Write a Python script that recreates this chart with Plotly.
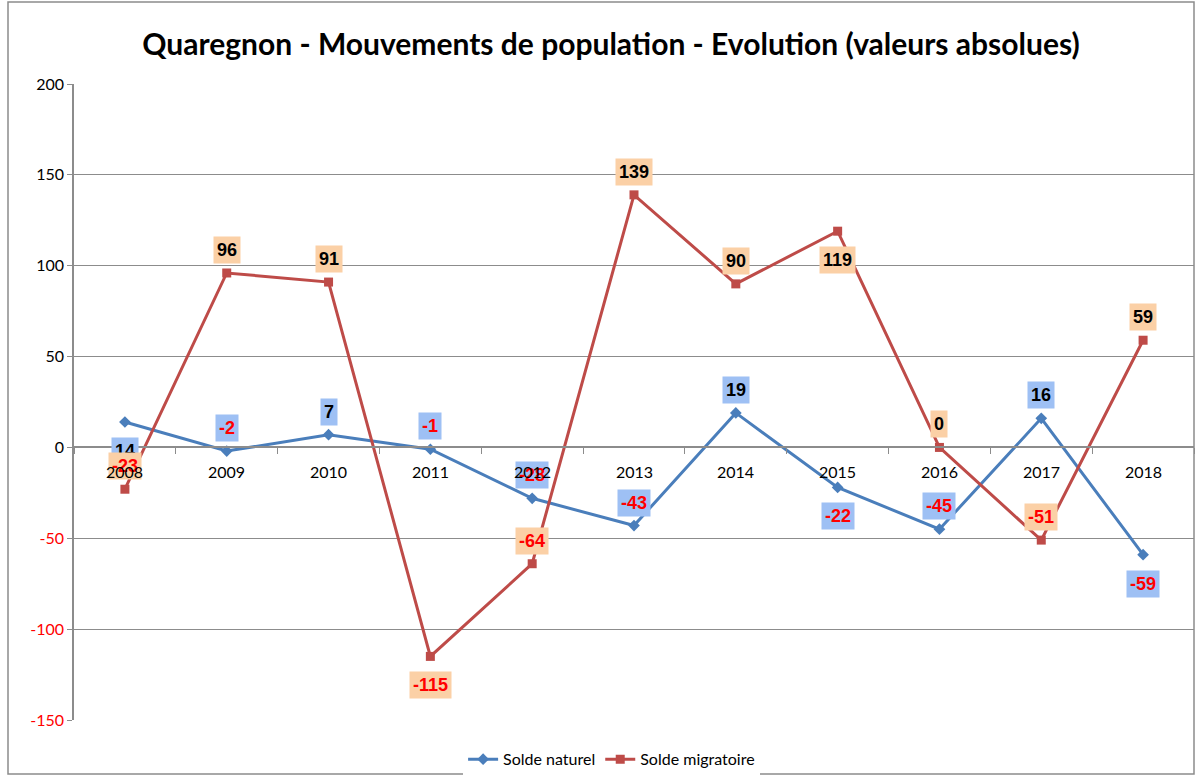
import plotly.graph_objects as go

years = ["2008", "2009", "2010", "2011", "2012", "2013", "2014", "2015", "2016", "2017", "2018"]
solde_naturel = [14, -2, 7, -1, -28, -43, 19, -22, -45, 16, -59]
solde_migratoire = [-23, 96, 91, -115, -64, 139, 90, 119, 0, -51, 59]
# label side: +1 above point, -1 below point
pos_naturel = [-1, 1, 1, 1, 1, 1, 1, -1, 1, 1, -1]
pos_migratoire = [1, 1, 1, -1, 1, 1, 1, -1, 1, 1, 1]
y_ticks = [-150, -100, -50, 0, 50, 100, 150, 200]

BLUE = "#4a7ebb"
RED = "#be4b48"
FONT = "Lato, Liberation Sans, Arial"

xi = list(range(len(years)))

fig = go.Figure()
fig.add_trace(go.Scatter(x=xi, y=solde_naturel, mode="lines+markers", name="Solde naturel",
                         line=dict(color=BLUE, width=3), marker=dict(symbol="diamond", size=9, color=BLUE)))
fig.add_trace(go.Scatter(x=xi, y=solde_migratoire, mode="lines+markers", name="Solde migratoire",
                         line=dict(color=RED, width=3), marker=dict(symbol="square", size=9, color=RED)))

annotations = []
for series, pos, bg in [(solde_naturel, pos_naturel, "#9ec0f4"), (solde_migratoire, pos_migratoire, "#fbd0a6")]:
    for i, v, p in zip(xi, series, pos):
        annotations.append(dict(
            x=i, y=v, xref="x", yref="y", text=f"<b>{v}</b>", showarrow=False,
            yshift=23 if p > 0 else -29, bgcolor=bg, borderpad=3,
            font=dict(family="Liberation Sans, Arial", size=18, color="black" if v >= 0 else "#ff0000"),
        ))
# category labels drawn on top of the data labels (as in the reference)
for i, yr in zip(xi, years):
    annotations.append(dict(
        x=i, y=0, xref="x", yref="y", text=yr, showarrow=False, yshift=-24,
        font=dict(family=FONT, size=16, color="black"),
    ))

ticktext = [f'<span style="color:#ff0000">{t}</span>' if t < 0 else str(t) for t in y_ticks]

fig.update_layout(
    width=1198, height=775,
    margin=dict(l=74, r=4, t=84, b=55, autoexpand=False),
    paper_bgcolor="white", plot_bgcolor="white",
    title=dict(text="<b>Quaregnon - Mouvements de population - Evolution (valeurs absolues)</b>",
               x=0.51, xanchor="center", y=0.942, yanchor="middle",
               font=dict(family=FONT, size=30, color="black")),
    font=dict(family=FONT, size=15, color="black"),
    showlegend=True,
    legend=dict(orientation="h", x=0.48, xanchor="center", y=-0.035, yanchor="top",
                font=dict(family=FONT, size=16, color="black")),
    annotations=annotations,
    shapes=[dict(type="rect", xref="paper", yref="paper",
                 x0=(8 - 74) / 1120, x1=(1194 - 74) / 1120,
                 y0=(720 - 774) / 636, y1=(720 - 2) / 636,
                 line=dict(color="#8c8c8c", width=1.5), layer="below")],
)
fig.update_xaxes(range=[-0.5, 10.5], anchor="free", position=150 / 350,
                 tickvals=xi, ticktext=years, ticks="", showticklabels=False,
                 minor=dict(tickvals=[i - 0.5 for i in range(len(years) + 1)], ticks="outside",
                            ticklen=6, tickcolor="#8c8c8c", showgrid=False),
                 showline=True, linecolor="#8c8c8c", linewidth=1.5,
                 showgrid=False, zeroline=False)
fig.update_yaxes(range=[-150, 200], tickvals=y_ticks, ticktext=ticktext,
                 showline=True, linecolor="#8c8c8c", linewidth=1.5,
                 ticks="outside", ticklen=5, tickcolor="#8c8c8c",
                 showgrid=True, gridcolor="#8c8c8c", gridwidth=1.2, zeroline=False,
                 tickfont=dict(family=FONT, size=16))

fig.write_html("out.html", config={"displayModeBar": False},
               post_script="document.body.style.margin='0px';")
